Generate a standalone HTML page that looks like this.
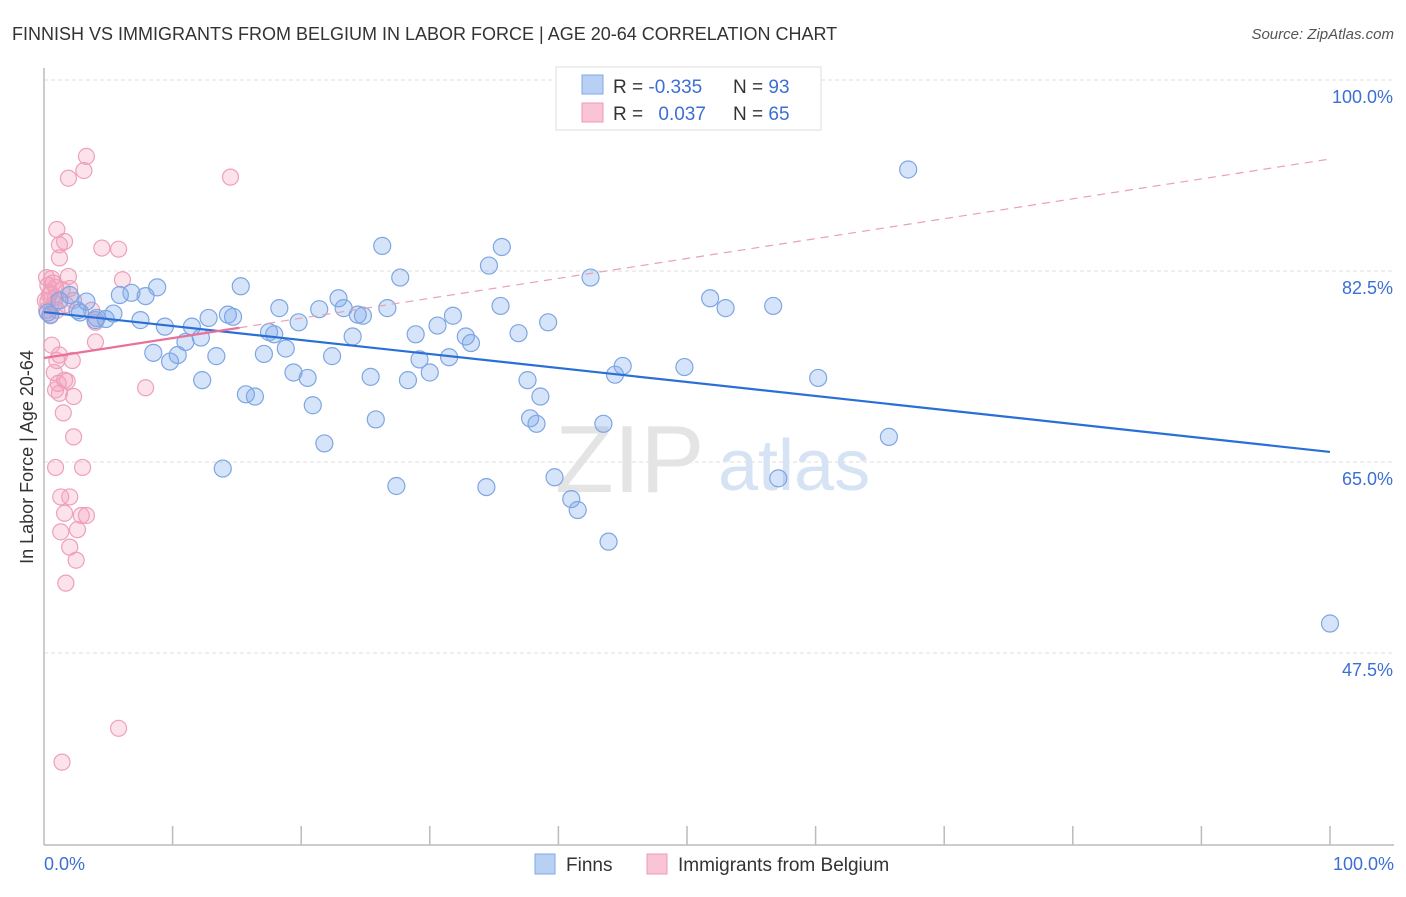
<!DOCTYPE html>
<html><head><meta charset="utf-8"><style>
body{margin:0;background:#fff;font-family:"Liberation Sans",sans-serif}
svg text{font-family:"Liberation Sans",sans-serif}
</style></head><body>
<svg id="chart" width="1406" height="892" viewBox="0 0 1406 892">
<text x="12" y="40" font-size="18" fill="#333">FINNISH VS IMMIGRANTS FROM BELGIUM IN LABOR FORCE | AGE 20-64 CORRELATION CHART</text>
<text x="1394" y="39" font-size="15" fill="#555" font-style="italic" text-anchor="end">Source: ZipAtlas.com</text>
<g id="grid"></g>
<g>
<text x="555" y="492" font-size="96" fill="#e4e4e4" font-family="Liberation Serif">ZIP</text>
<text x="718" y="490" font-size="72" fill="#d6e3f4">atlas</text>
</g>
<line x1="44" y1="68" x2="44" y2="845" stroke="#bbb" stroke-width="1.5"/>
<line x1="44" y1="845" x2="1394" y2="845" stroke="#bbb" stroke-width="1.5"/>
<g id="xticks"></g>
<text x="44" y="870" font-size="18" fill="#3b6fd4">0.0%</text>
<text x="1394" y="870" font-size="18" fill="#3b6fd4" text-anchor="end">100.0%</text>
<text transform="translate(33,457) rotate(-90)" font-size="18" fill="#333" text-anchor="middle">In Labor Force | Age 20-64</text>
<g id="points"></g>
<g id="trends"></g>
<g>
<rect x="556" y="67" width="265" height="63" fill="#fff" stroke="#ddd"/>
<rect x="582" y="75" width="21" height="19" fill="#b8d0f4" stroke="#7fa8e4"/>
<rect x="582" y="103" width="21" height="19" fill="#f9c4d4" stroke="#ee9ab6"/>
<text x="613" y="93" font-size="19" fill="#333">R = <tspan fill="#3b6fd4">-0.335</tspan></text>
<text x="733" y="93" font-size="19" fill="#333">N = <tspan fill="#3b6fd4">93</tspan></text>
<text x="613" y="120" font-size="19" fill="#333">R = <tspan fill="#3b6fd4" dx="10">0.037</tspan></text>
<text x="733" y="120" font-size="19" fill="#333">N = <tspan fill="#3b6fd4">65</tspan></text>
</g>
<g>
<rect x="535" y="854" width="20" height="20" fill="#b8d0f4" stroke="#7fa8e4"/>
<text x="566" y="871" font-size="19" fill="#333">Finns</text>
<rect x="647" y="854" width="20" height="20" fill="#f9c4d4" stroke="#ee9ab6"/>
<text x="678" y="871" font-size="19" fill="#333">Immigrants from Belgium</text>
</g>
</svg>
<script>
const yTicks=[100,82.5,65,47.5];
const yTickLabels=["100.0%","82.5%","65.0%","47.5%"];
const xTicks=[0,10,20,30,40,50,60,70,80,90,100];
const finnsX=[46.8,67.2,100,26.3,35.6,34.6,27.7,42.5,15.3,8.8,5.9,6.8,7.9,3.3,2.6,5.4,4.1,4.8,7.5,9.4,11.5,12.8,14.3,14.7,18.3,19.8,21.4,22.9,23.3,24.4,24.8,26.7,17.5,17.9,12.2,11.0,8.5,10.4,9.8,13.4,17.1,18.8,22.4,24.0,28.9,30.6,31.8,32.8,33.2,29.2,31.5,35.5,36.9,39.2,51.8,53.0,56.7,45.0,44.4,49.8,60.2,12.3,19.4,20.5,25.4,28.3,30.0,37.6,38.6,15.7,16.4,20.9,25.8,37.8,38.3,43.5,21.8,65.7,13.9,39.7,57.1,27.4,34.4,41.0,41.5,43.9,0.3,1.2,2.0,2.8,4.0,0.5];
const finnsY=[100.1,91.8,50.2,84.8,84.7,83.0,81.9,81.9,81.1,81.0,80.3,80.5,80.2,79.7,78.9,78.6,78.2,78.1,78.0,77.4,77.4,78.2,78.5,78.3,79.1,77.8,79.0,80.0,79.1,78.5,78.4,79.1,76.9,76.7,76.4,76.0,75.0,74.8,74.2,74.7,74.9,75.4,74.7,76.5,76.7,77.5,78.4,76.5,75.9,74.4,74.6,79.3,76.8,77.8,80.0,79.1,79.3,73.8,73.0,73.7,72.7,72.5,73.2,72.7,72.8,72.5,73.2,72.5,71.0,71.2,71.0,70.2,68.9,69.0,68.5,68.5,66.7,67.3,64.4,63.6,63.5,62.8,62.7,61.6,60.6,57.7,78.7,79.8,80.3,78.7,78.0,78.5];
const belX=[3.3,3.1,1.9,14.5,1.0,1.6,1.2,4.5,5.8,1.2,0.2,0.6,1.9,6.1,0.3,0.9,1.4,2.0,0.5,0.9,2.3,0.3,0.8,1.7,1.0,0.5,3.7,4.0,4.0,0.6,1.2,2.2,1.0,0.8,1.6,1.1,1.8,0.9,1.2,2.3,7.9,1.5,2.3,0.9,3.0,1.3,2.0,1.6,2.9,3.3,1.3,2.6,2.0,2.5,1.7,5.8,1.4,0.2,0.4,0.7,0.1];
const belY=[93.0,91.7,91.0,91.1,86.3,85.2,84.9,84.6,84.5,83.7,81.9,81.8,82.0,81.7,81.2,81.0,80.8,80.9,80.5,80.1,79.8,79.7,79.5,79.4,78.9,78.4,78.9,77.8,76.0,75.7,74.8,74.3,74.3,73.2,72.5,72.2,72.4,71.6,71.3,71.0,71.8,69.5,67.3,64.5,64.5,61.8,61.8,60.3,60.1,60.1,58.6,58.8,57.2,56.0,53.9,40.6,37.5,78.9,80.3,81.4,79.8];
const finnsTrend=[78.74,65.92];
const belTrend=[74.53,92.76];
const belSolidEnd=15.2;

const NS="http://www.w3.org/2000/svg";
const sx=v=>44+v*12.86;
const sy=v=>80+(100-v)*10.914;
function mk(tag,attrs,parent){const e=document.createElementNS(NS,tag);for(const k in attrs)e.setAttribute(k,attrs[k]);parent.appendChild(e);return e;}
const grid=document.getElementById('grid');
yTicks.forEach((t,i)=>{
  const l=mk('line',{x1:44,x2:1394,y1:sy(t),y2:sy(t),stroke:'#ddd','stroke-dasharray':'4,3'},grid);
  
  
  const tx=mk('text',{x:1393,y:sy(t)+23,'font-size':18,fill:'#3b6fd4','text-anchor':'end'},grid);
  tx.textContent=yTickLabels[i];
  
  
});
const xt=document.getElementById('xticks');
xTicks.slice(1).forEach(t=>{
  const l=mk('line',{x1:sx(t),x2:sx(t),y1:826,y2:845,stroke:'#bbb','stroke-width':1.5},xt);
  
  
});
const pts=document.getElementById('points');
belX.forEach((x,i)=>{
  const c=mk('circle',{cx:sx(x),cy:sy(belY[i]),r:8,fill:'rgba(244,160,190,0.3)',stroke:'#eea0bb','stroke-width':1.2},pts);
  
  
});
finnsX.forEach((x,i)=>{
  const c=mk('circle',{cx:sx(x),cy:sy(finnsY[i]),r:8.5,fill:'rgba(120,165,235,0.3)',stroke:'#7ea6e2','stroke-width':1.2},pts);
  
  
});
const tr=document.getElementById('trends');
let l1=mk('line',{x1:sx(0),y1:sy(finnsTrend[0]),x2:sx(100),y2:sy(finnsTrend[1]),stroke:'#2a6fd6','stroke-width':2.2},tr);


const bAt=x=>belTrend[0]+(belTrend[1]-belTrend[0])*x/100;
let l2=mk('line',{x1:sx(0),y1:sy(belTrend[0]),x2:sx(belSolidEnd),y2:sy(bAt(belSolidEnd)),stroke:'#e8709a','stroke-width':2.2},tr);


let l3=mk('line',{x1:sx(belSolidEnd),y1:sy(bAt(belSolidEnd)),x2:sx(100),y2:sy(belTrend[1]),stroke:'#e8a0b8','stroke-width':1.2,'stroke-dasharray':'8,6'},tr);


</script>
</body></html>
